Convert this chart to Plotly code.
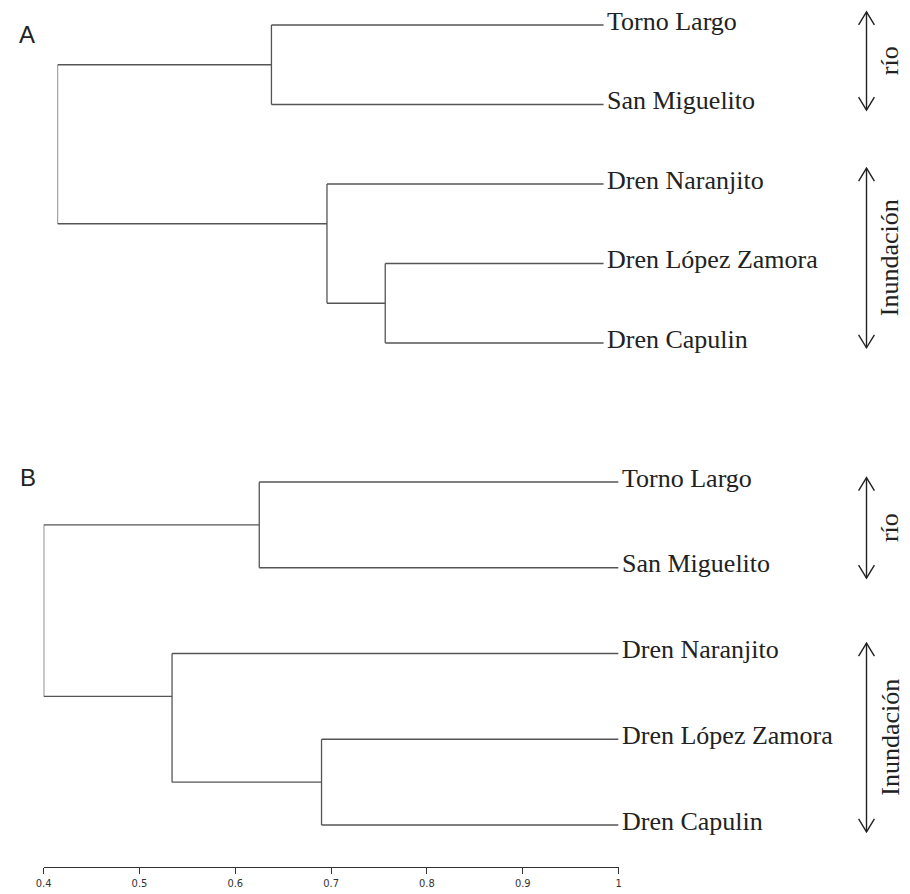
import plotly.graph_objects as go

# ---------------- data ----------------
leaves = ["Torno Largo", "San Miguelito", "Dren Naranjito", "Dren López Zamora", "Dren Capulin"]
# merges: children indices (<5 leaf, >=5 earlier merge k-5)
merges = [[0, 1], [3, 4], [2, 6], [5, 7]]
heights_A = [0.635, 0.760, 0.696, 0.400]
heights_B = [0.625, 0.690, 0.534, 0.400]
leaf_height = 1.0
group_labels = ["río", "Inundación"]
tick_vals = [0.4, 0.5, 0.6, 0.7, 0.8, 0.9, 1.0]
tick_text = ["0.4", "0.5", "0.6", "0.7", "0.8", "0.9", "1"]

OFF = 8  # default page body margin
W, H = 910 - OFF, 894 - OFF
LINE = "#555555"
INK = "#222222"
SERIF = "Liberation Serif, Times New Roman, serif"


def dendro_xy(heights):
    n = len(leaves)
    first_leaf = {i: i for i in range(n)}
    ypos = {i: float(i) for i in range(n)}
    hgt = {i: leaf_height for i in range(n)}
    xs, ys = [], []
    for k, (a, b) in enumerate(merges):
        node = n + k
        h = heights[k]
        for c in (a, b):
            xs += [hgt[c], h, None]
            ys += [ypos[c], ypos[c], None]
        xs += [h, h, None]
        ys += [ypos[a], ypos[b], None]
        first_leaf[node] = min(first_leaf[a], first_leaf[b])
        ypos[node] = (first_leaf[a] + first_leaf[b]) / 2.0
        hgt[node] = h
    return xs, ys


def px_x(p):
    return (p - OFF) / W


def px_y(p):
    return 1 - (p - OFF) / H


def dom_y(top, bottom):
    return [px_y(bottom), px_y(top)]


fig = go.Figure()
for heights, xa, ya in [(heights_A, "x", "y"), (heights_B, "x2", "y2")]:
    xs, ys = dendro_xy(heights)
    fig.add_trace(go.Scatter(x=xs, y=ys, mode="lines", xaxis=xa, yaxis=ya,
                             line=dict(color=LINE, width=1.3), hoverinfo="skip",
                             showlegend=False))
    for i, name in enumerate(leaves):
        fig.add_annotation(x=leaf_height, y=i, xref=xa, yref=ya, text=name,
                           showarrow=False, xanchor="left", yanchor="middle",
                           xshift=1, yshift=4,
                           font=dict(family=SERIF, size=26, color=INK))

# panel A: leaves at pixel 25, spacing 79.5 ; panel B: leaves at 482, spacing 85.75
A_top, A_bot, A_l0, A_sp = 8, 400, 25, 79.5
B_top, B_bot, B_l0, B_sp = 440, 867, 482, 85.75

fig.update_layout(
    width=W, height=H, margin=dict(l=0, r=0, t=0, b=0),
    paper_bgcolor="white", plot_bgcolor="white", showlegend=False,
    xaxis=dict(domain=[px_x(50), px_x(603)], range=[0.4, 1.0], visible=False, anchor="y"),
    yaxis=dict(domain=dom_y(A_top, A_bot),
               range=[(A_bot - A_l0) / A_sp, (A_top - A_l0) / A_sp], visible=False, anchor="x"),
    xaxis2=dict(domain=[px_x(36), px_x(618)], range=[0.4, 1.0], anchor="y2",
                showline=True, linecolor="#333333", linewidth=1.2, ticks="outside",
                ticklen=6, tickcolor="#333333", tickwidth=1, showgrid=False, zeroline=False,
                tickvals=tick_vals, ticktext=tick_text,
                tickfont=dict(family="Liberation Sans Narrow, DejaVu Sans Condensed, Arial Narrow, Liberation Sans",
                              size=11, color="#333333")),
    yaxis2=dict(domain=dom_y(B_top, B_bot),
                range=[(B_bot - B_l0) / B_sp, (B_top - B_l0) / B_sp], visible=False, anchor="x2"),
)

# panel letters
fig.add_annotation(x=px_x(9), y=px_y(34), xref="paper", yref="paper", text="A",
                   showarrow=False, xanchor="left", yanchor="middle",
                   font=dict(family="Liberation Sans, Arial, sans-serif", size=24, color=INK))
fig.add_annotation(x=px_x(10), y=px_y(477), xref="paper", yref="paper", text="B",
                   showarrow=False, xanchor="left", yanchor="middle",
                   font=dict(family="Liberation Sans, Arial, sans-serif", size=24, color=INK))

# group arrows (double headed, open chevrons) and rotated labels
arrow_x = px_x(869)
label_x = px_x(893)
chev_dx = 8 / W
panels = [
    ("y", A_sp, [(-0.165, 1.07), (1.80, 4.06)]),
    ("y2", B_sp, [(-0.05, 1.12), (1.88, 4.08)]),
]
for yref, sp, spans in panels:
    dy = 13 / sp
    for (y0, y1), lab in zip(spans, group_labels):
        fig.add_shape(type="line", xref="paper", yref=yref, x0=arrow_x, x1=arrow_x,
                      y0=y0, y1=y1, line=dict(color=INK, width=1.4))
        fig.add_shape(type="path", xref="paper", yref=yref,
                      path=f"M {arrow_x - chev_dx} {y0 + dy} L {arrow_x} {y0} L {arrow_x + chev_dx} {y0 + dy}",
                      line=dict(color=INK, width=1.4))
        fig.add_shape(type="path", xref="paper", yref=yref,
                      path=f"M {arrow_x - chev_dx} {y1 - dy} L {arrow_x} {y1} L {arrow_x + chev_dx} {y1 - dy}",
                      line=dict(color=INK, width=1.4))
        fig.add_annotation(x=label_x, y=(y0 + y1) / 2, xref="paper", yref=yref, text=lab,
                           showarrow=False, textangle=-90, xanchor="center", yanchor="middle",
                           font=dict(family=SERIF, size=26, color=INK))

fig.write_html("out.html")
